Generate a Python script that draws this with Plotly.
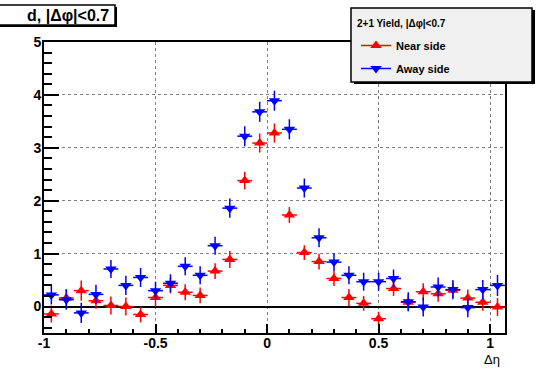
import plotly.graph_objects as go

# Delta-eta bin centres (31 bins of width 1/15 from -1 to 16/15)
delta_eta = [-0.967, -0.900, -0.833, -0.767, -0.700, -0.633, -0.567, -0.500,
             -0.433, -0.367, -0.300, -0.233, -0.167, -0.100, -0.033, 0.033,
             0.100, 0.167, 0.233, 0.300, 0.367, 0.433, 0.500, 0.567,
             0.633, 0.700, 0.767, 0.833, 0.900, 0.967, 1.033]
bin_half_width = 1.0 / 30.0

near_yield = [-0.14, 0.16, 0.30, 0.11, 0.02, 0.00, -0.15, 0.17,
              0.40, 0.27, 0.21, 0.67, 0.89, 2.38, 3.09, 3.28,
              1.73, 1.02, 0.85, 0.53, 0.17, 0.06, -0.23, 0.34,
              0.08, 0.28, 0.24, 0.31, 0.16, 0.08, -0.01]
near_err = [0.16, 0.17, 0.19, 0.15, 0.17, 0.17, 0.15, 0.17,
            0.15, 0.15, 0.15, 0.15, 0.16, 0.17, 0.18, 0.18,
            0.15, 0.14, 0.15, 0.14, 0.16, 0.14, 0.13, 0.14,
            0.15, 0.16, 0.15, 0.15, 0.16, 0.16, 0.17]

away_yield = [0.22, 0.13, -0.12, 0.23, 0.71, 0.40, 0.55, 0.30,
              0.44, 0.76, 0.59, 1.15, 1.86, 3.22, 3.68, 3.89,
              3.35, 2.24, 1.30, 0.84, 0.59, 0.47, 0.47, 0.53,
              0.09, -0.01, 0.37, 0.32, -0.02, 0.32, 0.40]
away_err = [0.18, 0.19, 0.19, 0.18, 0.17, 0.18, 0.18, 0.17,
            0.17, 0.17, 0.17, 0.17, 0.18, 0.19, 0.19, 0.19,
            0.19, 0.18, 0.18, 0.17, 0.17, 0.17, 0.17, 0.17,
            0.18, 0.18, 0.18, 0.18, 0.18, 0.18, 0.20]

x_ticks = [-1, -0.5, 0, 0.5, 1]
x_tick_labels = ["-1", "-0.5", "0", "0.5", "1"]
y_ticks = [0, 1, 2, 3, 4, 5]
y_tick_labels = ["0", "1", "2", "3", "4", "5"]

series = [
    ("Near side", near_yield, near_err, "#ff0000", "triangle-up"),
    ("Away side", away_yield, away_err, "#0000ff", "triangle-down"),
]

W, H = 536, 369
ML, MR, MT, MB = 44, 31, 42, 36
PW, PH = W - ML - MR, H - MT - MB
FONT = "Liberation Sans"


def px_x(px):
    return (px - ML) / PW


def px_y(py):
    return (H - MB - py) / PH


fig = go.Figure()

for name, vals, errs, color, symbol in series:
    fig.add_trace(go.Scatter(
        x=delta_eta, y=vals, mode="markers", showlegend=False,
        marker=dict(symbol=symbol, size=10, color=color, line=dict(width=0)),
        error_y=dict(type="data", array=errs, visible=True, color=color,
                     thickness=1.5, width=0),
        error_x=dict(type="constant", value=bin_half_width, visible=True,
                     color=color, thickness=1.5, width=0),
        cliponaxis=False,
    ))
    # legend entry: line through marker, as in a "lep" legend
    fig.add_trace(go.Scatter(
        x=[None], y=[None], mode="lines+markers", name=name,
        legendgroup=name,
        line=dict(color=color, width=1.5),
        marker=dict(symbol=symbol, size=10, color=color),
    ))

axis_common = dict(
    showline=True, linecolor="black", linewidth=2, mirror=True,
    ticks="inside", tickcolor="black", tickwidth=1.5,
    showgrid=True, gridcolor="#7f7f7f", griddash="dot", gridwidth=1,
    tickfont=dict(family=FONT, size=14, color="black", weight="bold"),
)

fig.update_xaxes(
    range=[-1, 1 + 1 / 15], tickvals=x_ticks, ticktext=x_tick_labels,
    ticklen=9, zeroline=False, ticklabelstandoff=-4,
    minor=dict(dtick=0.1, tick0=0, ticks="inside", ticklen=4,
               tickcolor="black", tickwidth=1.5, showgrid=False),
    **axis_common,
)
fig.update_yaxes(
    range=[-0.5, 5], tickvals=y_ticks, ticktext=y_tick_labels,
    ticklen=15, zeroline=True, zerolinecolor="black", zerolinewidth=1.5,
    minor=dict(dtick=0.2, tick0=0, ticks="inside", ticklen=8,
               tickcolor="black", tickwidth=1.5, showgrid=False),
    ticklabelstandoff=-2,
    **axis_common,
)

shapes = []
# title box with drop shadow
shapes.append(dict(type="rect", xref="paper", yref="paper",
                   x0=px_x(-10), x1=px_x(117), y0=px_y(7), y1=px_y(27),
                   fillcolor="black", line=dict(width=0), layer="above"))
shapes.append(dict(type="rect", xref="paper", yref="paper",
                   x0=px_x(-10), x1=px_x(115), y0=px_y(5), y1=px_y(25),
                   fillcolor="white", line=dict(color="black", width=1.5),
                   layer="above"))
# legend box with drop shadow
shapes.append(dict(type="rect", xref="paper", yref="paper",
                   x0=px_x(354), x1=px_x(535), y0=px_y(10), y1=px_y(84),
                   fillcolor="black", line=dict(width=0), layer="above"))
shapes.append(dict(type="rect", xref="paper", yref="paper",
                   x0=px_x(351), x1=px_x(532), y0=px_y(8), y1=px_y(82),
                   fillcolor="#f0f0f0", line=dict(color="black", width=1.5),
                   layer="above"))

annotations = [
    dict(text="d, |Δφ|<0.7", xref="paper", yref="paper",
         x=px_x(111), y=px_y(15), xanchor="right", yanchor="middle",
         showarrow=False,
         font=dict(family=FONT, size=16, color="black", weight="bold")),
    dict(text="2+1 Yield, |Δφ|<0.7", xref="paper", yref="paper",
         x=px_x(355), y=px_y(23), xanchor="left", yanchor="middle",
         showarrow=False,
         font=dict(family=FONT, size=10, color="black", weight="bold")),
    dict(text="Δη", xref="paper", yref="paper",
         x=px_x(492), y=px_y(359), xanchor="center", yanchor="middle",
         showarrow=False,
         font=dict(family=FONT, size=13, color="black")),
]

fig.update_layout(
    width=W, height=H,
    margin=dict(l=ML, r=MR, t=MT, b=MB, pad=0),
    paper_bgcolor="white", plot_bgcolor="white",
    shapes=shapes, annotations=annotations,
    showlegend=True,
    legend=dict(x=px_x(356), y=px_y(31), xanchor="left", yanchor="top",
                bgcolor="rgba(0,0,0,0)", borderwidth=0,
                tracegroupgap=4,
                font=dict(family=FONT, size=11, color="black", weight="bold")),
)

fig.write_html("out.html")
